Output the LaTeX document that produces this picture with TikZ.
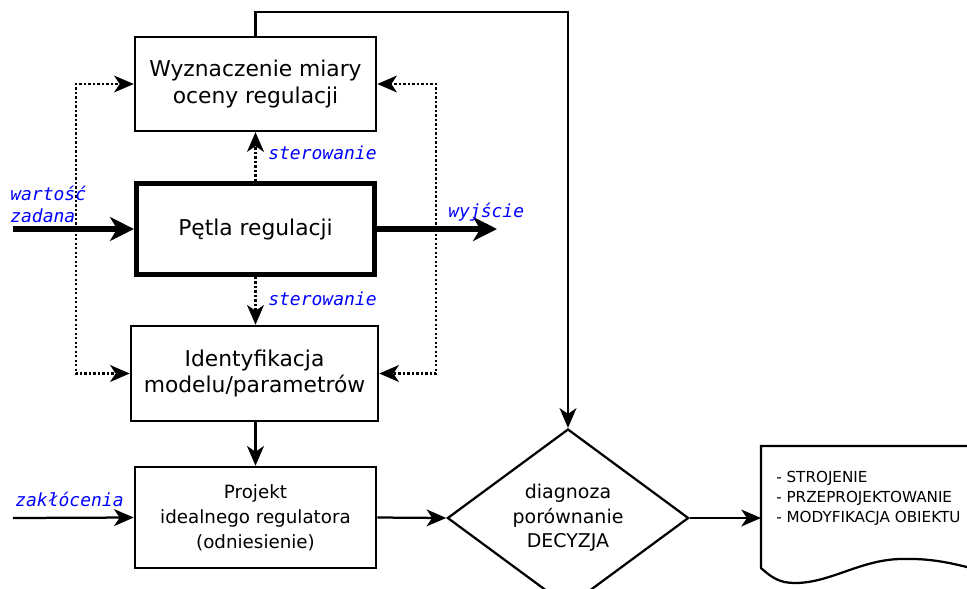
\documentclass[tikz,border=0pt]{standalone}
\usepackage{fontspec}
\setmainfont{DejaVu Sans}
\newfontfamily\lblfont{DejaVu Sans Mono}
\usetikzlibrary{arrows.meta,shapes.geometric}
\colorlet{lblcolor}{blue}
\tikzset{
    % --- bloki ---
    box/.style={draw, line width=1.6pt, align=center, inner sep=2pt,
                font=\fontsize{15.5}{18.8}\selectfont},
    boldbox/.style={box, line width=3.6pt},
    smallbox/.style={box, font=\fontsize{13}{17.6}\selectfont},
    decision/.style={draw, diamond, line width=1.6pt, align=center, inner sep=0pt,
                     minimum width=6.03cm, minimum height=3.55cm,
                     font=\fontsize{13.5}{17.4}\selectfont},
    % --- polaczenia ---
    flow/.style={line width=1.6pt, -{Stealth[length=14pt, width=12pt, inset=4pt]}},
    thickflow/.style={line width=3.6pt, -{Stealth[length=17pt, width=17pt, inset=5pt]}},
    dotflow/.style={line width=1.6pt, dash pattern=on 1.6pt off 1.6pt,
                    -{Stealth[length=14pt, width=12pt, inset=4pt]}},
    sig/.style={text=lblcolor, font=\lblfont\itshape\fontsize{12.8}{15.5}\selectfont,
                inner sep=0pt, align=left}
}

\begin{document}
\begin{tikzpicture}[x=0.025cm, y=-0.025cm]
    \useasboundingbox (0,0) rectangle (967,588);

    \node[box, minimum width=6.03cm, minimum height=2.35cm] (miara) at (255.5,84)
        {Wyznaczenie miary\\oceny regulacji};
    \node[boldbox, minimum width=5.95cm, minimum height=2.27cm] (petla) at (255.5,229)
        {P\k{e}tla regulacji};
    \node[box, minimum width=6.18cm, minimum height=2.38cm] (ident) at (254.5,373.5)
        {Identyfikacja\\modelu/parametrów};
    \node[smallbox, minimum width=6.03cm, minimum height=2.53cm] (projekt) at (255.5,517.5)
        {Projekt\\idealnego regulatora\\(odniesienie)};
    \node[decision] (diag) at (568,518) {diagnoza\\porównanie\\DECYZJA};

    % dokument z wnioskami
    \draw[line width=1.6pt] (967,446) -- (761,446) -- (761,568)
        .. controls (772,578) and (780,583) .. (795,583)
        .. controls (830,583) and (860,560) .. (900,559)
        .. controls (930,558) and (950,563) .. (967,567);
    \coordinate (docin) at (761,518);
    \node[anchor=west, align=left, inner sep=0pt, font=\fontsize{10.8}{14.2}\selectfont] (wnioski) at (776,498)
        {- STROJENIE\\- PRZEPROJEKTOWANIE\\- MODYFIKACJA OBIEKTU};

    \coordinate (wej) at (13,229);
    \coordinate (wyj) at (497,229);
    \coordinate (zak) at (13,518);
    \coordinate (wz) at (76,229);
    \coordinate (wy) at (436,229);

    \draw[thickflow] (wej) -- (petla.west);
    \draw[thickflow] (petla.east) -- (wyj);

    \draw[dotflow] (wz) |- (miara.west);
    \draw[dotflow] (wz) |- (ident.west);
    \draw[dotflow] (wy) |- (miara.east);
    \draw[dotflow] (wy) |- (ident.east);

    \draw[dotflow] (petla.north) -- (miara.south);
    \draw[dotflow] (petla.south) -- (petla.south |- ident.north);

    \draw[flow] (ident.south -| projekt.north) -- (projekt.north);
    \draw[flow] (zak) -- (projekt.west);
    \draw[flow] (projekt.east) -- (diag.west);
    \draw[flow] (diag.east) -- (docin);
    \draw[flow] (miara.north) -- ++(0,-24) -| (diag.north);

    \node[sig, anchor=west] (lwz) at (10,204) {wartość\\zadana};
    \node[sig, anchor=west] (lwy) at (448,212) {wyjście};
    \node[sig, anchor=west] (lst1) at (268,153) {sterowanie};
    \node[sig, anchor=west] (lst2) at (268,299) {sterowanie};
    \node[sig, anchor=west] (lzak) at (15,499) {zakłócenia};
\end{tikzpicture}
\end{document}
